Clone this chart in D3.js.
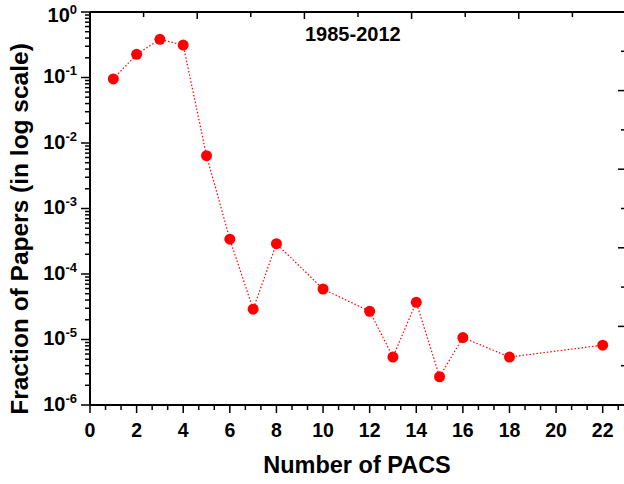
<!DOCTYPE html>
<html>
<head>
<meta charset="utf-8">
<script src="https://cdn.jsdelivr.net/npm/d3@7"></script>
<style>
  body { margin: 0; background: #fff; }
  text { font-family: "Liberation Sans", Arial, sans-serif; font-weight: bold; fill: #000; }
</style>
</head>
<body>
<svg width="624" height="484"></svg>
<script>
var pacs     = [1, 2, 3, 4, 5, 6, 7, 8, 10, 12, 13, 14, 15, 16, 18, 22];
var fraction = [0.095, 0.226, 0.383, 0.313, 0.0064, 3.4e-4, 2.9e-5, 2.9e-4,
                5.9e-5, 2.7e-5, 5.4e-6, 3.7e-5, 2.7e-6, 1.07e-5, 5.4e-6, 8.2e-6];
var xTicks   = [0, 2, 4, 6, 8, 10, 12, 14, 16, 18, 20, 22];
var yExps    = [0, -1, -2, -3, -4, -5, -6];
var title    = "1985-2012";

var svg = d3.select("svg"),
    pl = 90, pr = 626, pt = 12, pb = 405;

var x = d3.scaleLinear().domain([0, 23]).range([pl, pr]),
    y = d3.scaleLog().domain([1e-6, 1]).range([pb, pt]),
    xTop = d3.scaleLinear().domain([0, 10]).range([pl, pr]),
    yRight = d3.scaleLinear().domain([0, 5]).range([pb, pt]);

// frame lines
svg.append("line").attr("x1", pl).attr("x2", pr).attr("y1", pb).attr("y2", pb)
   .attr("stroke", "#000").attr("stroke-width", 2);
svg.append("line").attr("x1", pl).attr("x2", pr).attr("y1", pt).attr("y2", pt)
   .attr("stroke", "#000").attr("stroke-width", 2);
svg.append("line").attr("x1", pl).attr("x2", pl).attr("y1", pt).attr("y2", pb)
   .attr("stroke", "#000").attr("stroke-width", 2);
svg.append("line").attr("x1", pr - 1).attr("x2", pr - 1).attr("y1", pt).attr("y2", pb)
   .attr("stroke", "#000").attr("stroke-width", 2);

// bottom axis
var gx = svg.append("g").attr("transform", "translate(0," + pb + ")");
var minorX = d3.range(0, 23.01, 2 / 3).filter(function(v) { return Math.abs(v / 2 - Math.round(v / 2)) > 0.01; });
gx.selectAll(".minor").data(minorX).enter().append("line")
  .attr("x1", x).attr("x2", x).attr("y1", 0).attr("y2", 5)
  .attr("stroke", "#000").attr("stroke-width", 1.5);
gx.selectAll(".major").data(xTicks).enter().append("line")
  .attr("x1", x).attr("x2", x).attr("y1", 0).attr("y2", 8)
  .attr("stroke", "#000").attr("stroke-width", 1.5);
gx.selectAll("text").data(xTicks).enter().append("text")
  .attr("x", x).attr("y", 32).attr("text-anchor", "middle")
  .style("font-size", "19.5px").text(function(d) { return d; });

// left axis
var gy = svg.append("g").attr("transform", "translate(" + pl + ",0)");
var minorY = [];
yExps.slice(1).forEach(function(e) {
  for (var m = 2; m <= 9; m++) minorY.push(m * Math.pow(10, e));
});
gy.selectAll(".minor").data(minorY).enter().append("line")
  .attr("x1", -5).attr("x2", 0).attr("y1", y).attr("y2", y)
  .attr("stroke", "#000").attr("stroke-width", 1.5);
gy.selectAll(".major").data(yExps).enter().append("line")
  .attr("x1", -9).attr("x2", 0)
  .attr("y1", function(e) { return y(Math.pow(10, e)); })
  .attr("y2", function(e) { return y(Math.pow(10, e)); })
  .attr("stroke", "#000").attr("stroke-width", 1.5);
var lab = gy.selectAll("text").data(yExps).enter().append("text")
  .attr("x", -13)
  .attr("y", function(e) { return Math.max(y(Math.pow(10, e)) + 5.5, 22); })
  .attr("text-anchor", "end").style("font-size", "20px");
lab.append("tspan").text("10");
lab.append("tspan").attr("dy", -8).style("font-size", "13px").text(function(e) { return e; });

// top axis (inner ticks)
var topTicks = d3.range(1, 10);
svg.selectAll(".ttick").data(topTicks).enter().append("line")
  .attr("x1", xTop).attr("x2", xTop).attr("y1", pt)
  .attr("y2", function(d) { return d % 2 ? pt + 5 : pt + 7; })
  .attr("stroke", "#000").attr("stroke-width", 1.5);

// right axis (inner ticks)
var rightTicks = d3.range(0.5, 5, 0.5);
svg.selectAll(".rtick").data(rightTicks).enter().append("line")
  .attr("x1", function(d) { return (d * 2) % 2 ? pr - 5 : pr - 8; })
  .attr("x2", pr).attr("y1", yRight).attr("y2", yRight)
  .attr("stroke", "#000").attr("stroke-width", 1.5);

// data
var data = pacs.map(function(p, i) { return { n: p, f: fraction[i] }; });
var line = d3.line().x(function(d) { return x(d.n); }).y(function(d) { return y(d.f); });
svg.append("path").datum(data).attr("d", line)
   .attr("fill", "none").attr("stroke", "#ff0000").attr("stroke-width", 1.2)
   .attr("stroke-dasharray", "1.5,2");
svg.selectAll("circle").data(data).enter().append("circle")
   .attr("cx", function(d) { return x(d.n); })
   .attr("cy", function(d) { return y(d.f); })
   .attr("r", 5.5).attr("fill", "#ff0000");

// labels
svg.append("text").attr("x", 305).attr("y", 41).style("font-size", "20px").text(title);
svg.append("text").attr("x", 357).attr("y", 473).attr("text-anchor", "middle")
   .style("font-size", "23.5px").text("Number of PACS");
svg.append("text").attr("transform", "translate(28,229) rotate(-90)")
   .attr("text-anchor", "middle").style("font-size", "24.5px")
   .text("Fraction of Papers (in log scale)");
</script>
</body>
</html>
